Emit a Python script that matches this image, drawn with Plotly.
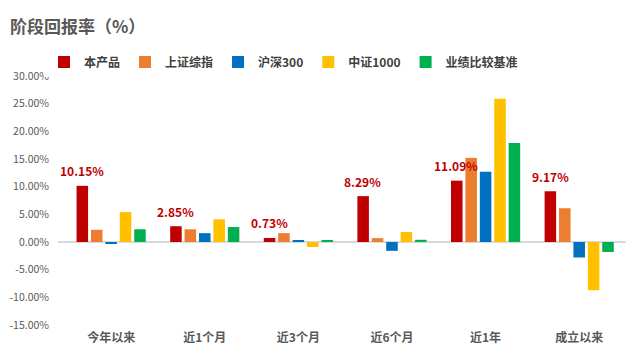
import plotly.graph_objects as go

categories = ["今年以来", "近1个月", "近3个月", "近6个月", "近1年", "成立以来"]
series_names = ["本产品", "上证综指", "沪深300", "中证1000", "业绩比较基准"]
product = [10.15, 2.85, 0.73, 8.29, 11.09, 9.17]
sse = [2.2, 2.3, 1.6, 0.7, 15.2, 6.1]
csi300 = [-0.3, 1.6, 0.2, -1.6, 12.7, -2.8]
csi1000 = [5.4, 4.1, -0.9, 1.8, 25.9, -8.7]
benchmark = [2.3, 2.7, 0.2, 0.4, 17.9, -1.8]
y_ticks = [30, 25, 20, 15, 10, 5, 0, -5, -10, -15]

colors = ["#C00000", "#ED7D31", "#0070C0", "#FFC000", "#00B050"]
values = [product, sse, csi300, csi1000, benchmark]
FONT = "Noto Sans CJK SC"

# page has an 8px body margin; figure coordinates are page coordinates minus 8
OFF = 8
W, H = 640 - 2 * OFF, 361 - 2 * OFF
ml, mt = 58 - OFF, 76 - OFF
mr = W - (626 - OFF)
mb = H - (325 - OFF)
bargap = 0.23

fig = go.Figure()
for name, vals, col in zip(series_names, values, colors):
    fig.add_trace(go.Bar(name=name, x=categories, y=vals, marker_color=col,
                         marker_line_width=0))

# data labels for 本产品: offset to first bar within each group
plot_w = W - ml - mr
cat_w = plot_w / len(categories)
slot = cat_w * (1 - bargap) / len(series_names)
first_offset = -slot * (len(series_names) - 1) / 2
for c, v in zip(categories, product):
    fig.add_annotation(x=c, y=v, xref="x", yref="y", text=f"{v:.2f}%",
                       showarrow=False, xshift=first_offset, yshift=15,
                       yanchor="middle",
                       font=dict(family=FONT, size=12, color="#C00000", weight="bold"))

fig.update_layout(
    width=W, height=H,
    margin=dict(l=ml, r=mr, t=mt, b=mb, autoexpand=False),
    paper_bgcolor="white", plot_bgcolor="white",
    barmode="group", bargap=bargap, bargroupgap=0.2,
    title=dict(text="阶段回报率（%）", x=(10 - OFF) / W, xref="container", xanchor="left",
               y=1 - (27 - OFF) / H, yref="container", yanchor="middle",
               font=dict(family=FONT, size=17, color="#595959", weight="bold")),
    legend=dict(orientation="h", x=(44 - OFF) / W, xref="container", xanchor="left",
                y=1 - (62 - OFF) / H, yref="container", yanchor="middle",
                font=dict(family=FONT, size=12, color="#404040", weight="bold"),
                itemclick=False, tracegroupgap=0),
    font=dict(family=FONT),
)
fig.update_yaxes(range=[-15, 30], tickvals=y_ticks,
                 ticktext=[f"{t:.2f}%" for t in y_ticks],
                 showgrid=False, zeroline=True, zerolinecolor="#D9D9D9", zerolinewidth=1.5,
                 tickfont=dict(family=FONT, size=10.5, color="#595959"), ticks="",
                 ticklabelstandoff=8, showline=False, automargin=False)
fig.update_xaxes(showgrid=False, showline=False, ticks="", automargin=False,
                 ticklabelstandoff=4,
                 tickfont=dict(family=FONT, size=12, color="#595959", weight="bold"))

fig.write_html("out.html")
